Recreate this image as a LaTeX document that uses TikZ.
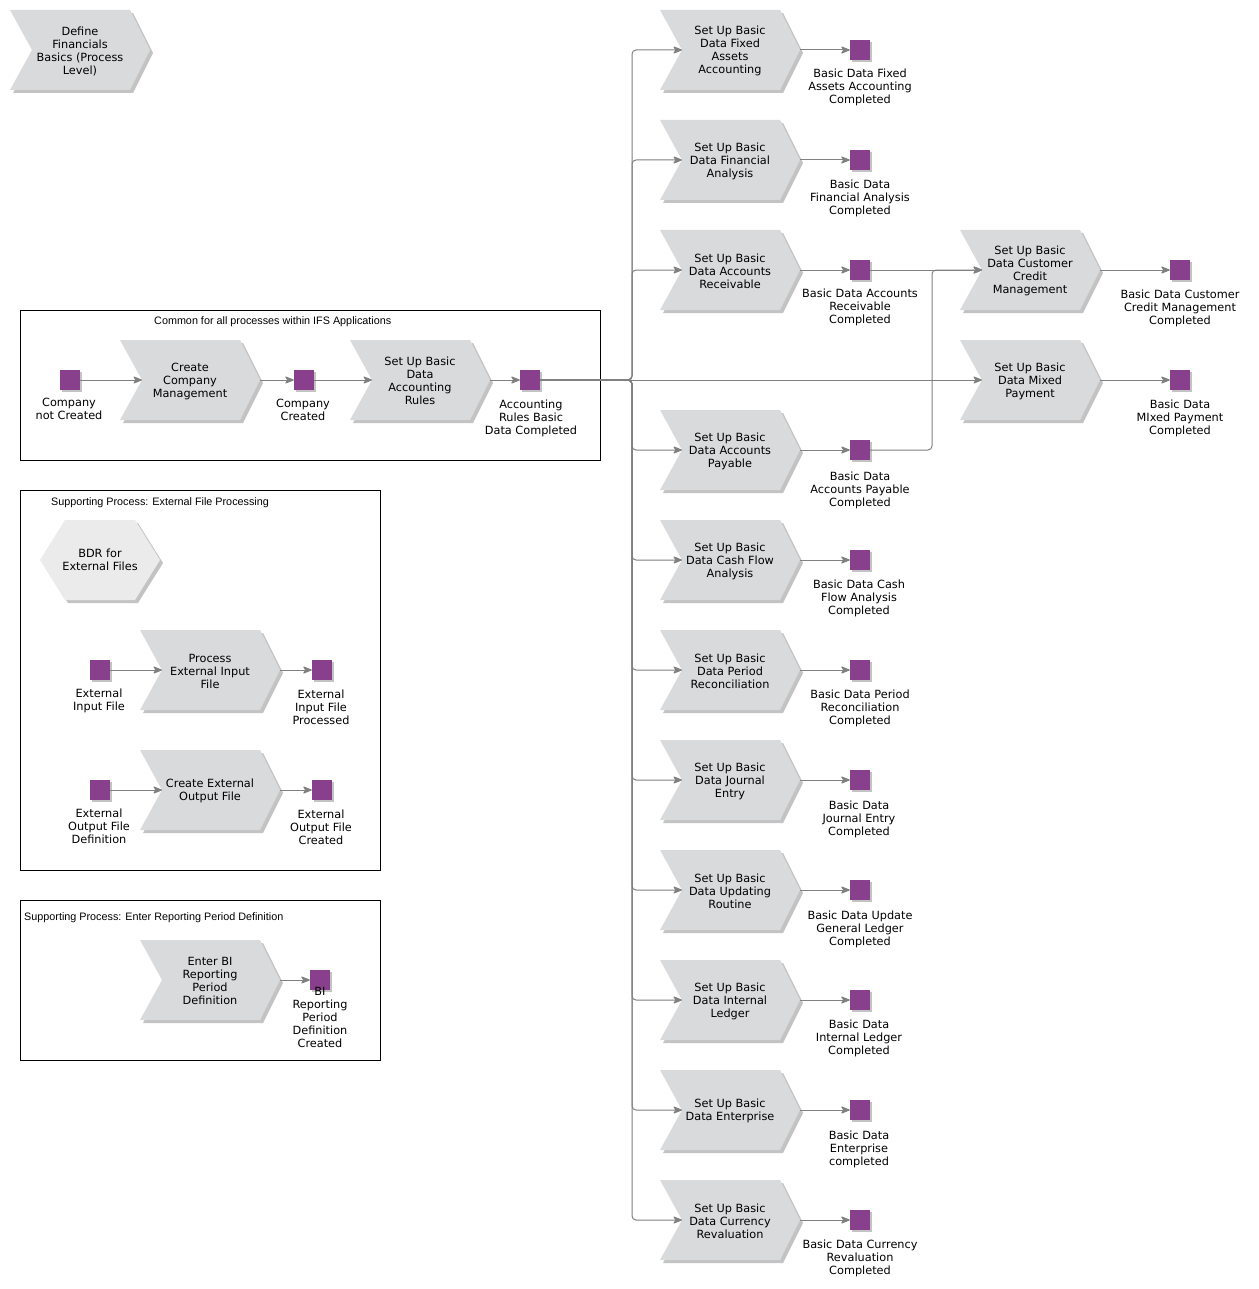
\documentclass[tikz,border=0pt]{standalone}
\usepackage{fontspec}
\setmainfont{DejaVu Sans}
\newfontfamily\titlefont{Liberation Sans}
\usetikzlibrary{arrows.meta,calc,shadows}

\definecolor{chevfill}{RGB}{217,218,220}
\definecolor{hexfill}{RGB}{235,235,235}
\definecolor{evfill}{RGB}{137,64,140}
\definecolor{shad}{RGB}{195,195,195}
\definecolor{conncol}{RGB}{128,128,128}

\tikzset{
  dshadow/.style={drop shadow={shadow xshift=3pt, shadow yshift=-3pt, fill=shad, opacity=1}},
  dshadowsm/.style={drop shadow={shadow xshift=2pt, shadow yshift=-2pt, fill=shad, opacity=1}},
  conn/.style={draw=conncol, line width=1pt, rounded corners=4pt,
    -{Stealth[length=10pt,width=8pt,inset=2.5pt,round]}},
  ctext/.style={font=\fontsize{11.3}{13}\selectfont, align=center, inner sep=0pt,
    minimum width=96pt, minimum height=80pt},
  lbl/.style={font=\fontsize{11.3}{13}\selectfont, align=center, inner sep=0pt, anchor=north},
  event/.style={rectangle, fill=evfill, minimum size=20pt, inner sep=0pt, dshadowsm},
  boxtitle/.style={font=\titlefont\fontsize{10.8}{13}\selectfont, inner sep=0pt, anchor=west},
  frame/.style={draw=black, line width=1pt},
}

% name, cx, cy, text
\newcommand\chev[4]{%
  \begin{scope}[shift={(#2,#3)}]
    \fill[chevfill,dshadow] (-70,-40) -- (50,-40) -- (70,0) -- (50,40) -- (-70,40) -- (-48,0) -- cycle;
    \node[ctext] (#1) at (0,1) {#4};
    \coordinate (#1-in) at (-48,0);
    \coordinate (#1-out) at (70,0);
  \end{scope}}

\begin{document}
\begin{tikzpicture}[x=1pt,y=-1pt]
\useasboundingbox (0,0) rectangle (1258,1289);

% frames
\draw[frame] (20,310) rectangle (600,460);
\draw[frame] (20,490) rectangle (380,870);
\draw[frame] (20,900) rectangle (380,1060);
\node[boxtitle] (t1) at (154,321.5) {Common for all processes within IFS Applications};
\node[boxtitle] (t2) at (51,502.5) {Supporting Process: External File Processing};
\node[boxtitle] (t3) at (24,917.5) {Supporting Process: Enter Reporting Period Definition};

% top-left process
\chev{def}{80}{50}{Define\\Financials\\Basics (Process\\Level)}

% box 1
\node[event] (e-cnc) at (70,380) {};
\node[lbl] (l-cnc) at (69,397.5) {Company\\not Created};
\chev{ccm}{190}{380}{Create\\Company\\Management}
\node[event] (e-cc) at (304,380) {};
\node[lbl] (l-cc) at (303,398.5) {Company\\Created};
\chev{rules}{420}{380}{Set Up Basic\\Data\\Accounting\\Rules}
\node[event] (e-arb) at (530,380) {};
\node[lbl] (l-arb) at (531,399.5) {Accounting\\Rules Basic\\Data Completed};

% right column
\chev{r1}{730}{50}{Set Up Basic\\Data Fixed\\Assets\\Accounting}
\chev{r2}{730}{160}{Set Up Basic\\Data Financial\\Analysis}
\chev{r3}{730}{270}{Set Up Basic\\Data Accounts\\Receivable}
\chev{r4}{730}{450}{Set Up Basic\\Data Accounts\\Payable}
\chev{r5}{730}{560}{Set Up Basic\\Data Cash Flow\\Analysis}
\chev{r6}{730}{670}{Set Up Basic\\Data Period\\Reconciliation}
\chev{r7}{730}{780}{Set Up Basic\\Data Journal\\Entry}
\chev{r8}{730}{890}{Set Up Basic\\Data Updating\\Routine}
\chev{r9}{730}{1000}{Set Up Basic\\Data Internal\\Ledger}
\chev{r10}{730}{1110}{Set Up Basic\\Data Enterprise}
\chev{r11}{730}{1220}{Set Up Basic\\Data Currency\\Revaluation}

\node[event] (s1) at (860,50) {};
\node[event] (s2) at (860,160) {};
\node[event] (s3) at (860,270) {};
\node[event] (s4) at (860,450) {};
\node[event] (s5) at (860,560) {};
\node[event] (s6) at (860,670) {};
\node[event] (s7) at (860,780) {};
\node[event] (s8) at (860,890) {};
\node[event] (s9) at (860,1000) {};
\node[event] (s10) at (860,1110) {};
\node[event] (s11) at (860,1220) {};

\node[lbl] (l1) at (860,68.5) {Basic Data Fixed\\Assets Accounting\\Completed};
\node[lbl] (l2) at (860,179.5) {Basic Data\\Financial Analysis\\Completed};
\node[lbl] (l3) at (860,288.5) {Basic Data Accounts\\Receivable\\Completed};
\node[lbl] (l4) at (860,471.5) {Basic Data\\Accounts Payable\\Completed};
\node[lbl] (l5) at (859,579.5) {Basic Data Cash\\Flow Analysis\\Completed};
\node[lbl] (l6) at (860,689.5) {Basic Data Period\\Reconciliation\\Completed};
\node[lbl] (l7) at (859,800.5) {Basic Data\\Journal Entry\\Completed};
\node[lbl] (l8) at (860,910.5) {Basic Data Update\\General Ledger\\Completed};
\node[lbl] (l9) at (859,1019.5) {Basic Data\\Internal Ledger\\Completed};
\node[lbl] (l10) at (859,1130.5) {Basic Data\\Enterprise\\completed};
\node[lbl] (l11) at (860,1239.5) {Basic Data Currency\\Revaluation\\Completed};

\chev{cust}{1030}{270}{Set Up Basic\\Data Customer\\Credit\\Management}
\chev{mix}{1030}{380}{Set Up Basic\\Data Mixed\\Payment}
\node[event] (s-cust) at (1180,270) {};
\node[event] (s-mix) at (1180,380) {};
\node[lbl] (l-cust) at (1180,289.5) {Basic Data Customer\\Credit Management\\Completed};
\node[lbl] (l-mix) at (1180,399.5) {Basic Data\\MIxed Payment\\Completed};

% box 2
\fill[hexfill,dshadow] (40,560) -- (65,520) -- (135,520) -- (160,560) -- (135,600) -- (65,600) -- cycle;
\node[font=\fontsize{11.3}{13}\selectfont, align=center, inner sep=0pt] (bdr) at (100,560) {BDR for\\External Files};

\node[event] (e-ein) at (100,670) {};
\node[lbl] (l-ein) at (99,688.5) {External\\Input File};
\chev{pei}{210}{670}{Process\\External Input\\File}
\node[event] (e-eip) at (322,670) {};
\node[lbl] (l-eip) at (321,689.5) {External\\Input File\\Processed};

\node[event] (e-eod) at (100,790) {};
\node[lbl] (l-eod) at (99,808.5) {External\\Output File\\Definition};
\chev{ceo}{210}{790}{Create External\\Output File}
\node[event] (e-eoc) at (322,790) {};
\node[lbl] (l-eoc) at (321,809.5) {External\\Output File\\Created};

% box 3
\chev{ebi}{210}{980}{Enter BI\\Reporting\\Period\\Definition}
\node[event] (e-bi) at (320,980) {};
\node[lbl] (l-bi) at (320,987.5) {BI\\Reporting\\Period\\Definition\\Created};

% connectors
\coordinate (bus) at (632,380);
\coordinate (apjoin) at (932,450);

\draw[conn] (e-cnc.east) -- (ccm-in);
\draw[conn] (ccm-out) -- (e-cc.west);
\draw[conn] (e-cc.east) -- (rules-in);
\draw[conn] (rules-out) -- (e-arb.west);

\foreach \r in {r1,r2,r3,r4,r5,r6,r7,r8,r9,r10,r11}{
  \draw[conn] (e-arb.east) -- (bus) |- (\r-in);
}
\draw[conn] (e-arb.east) -- (mix-in);

\foreach \i in {1,...,11}{
  \draw[conn] (r\i-out) -- (s\i.west);
}

\draw[conn] (s3.east) -- (cust-in);
\draw[conn] (s4.east) -- (apjoin) |- (cust-in);
\draw[conn] (cust-out) -- (s-cust.west);
\draw[conn] (mix-out) -- (s-mix.west);

\draw[conn] (e-ein.east) -- (pei-in);
\draw[conn] (pei-out) -- (e-eip.west);
\draw[conn] (e-eod.east) -- (ceo-in);
\draw[conn] (ceo-out) -- (e-eoc.west);
\draw[conn] (ebi-out) -- (e-bi.west);

\end{tikzpicture}
\end{document}
